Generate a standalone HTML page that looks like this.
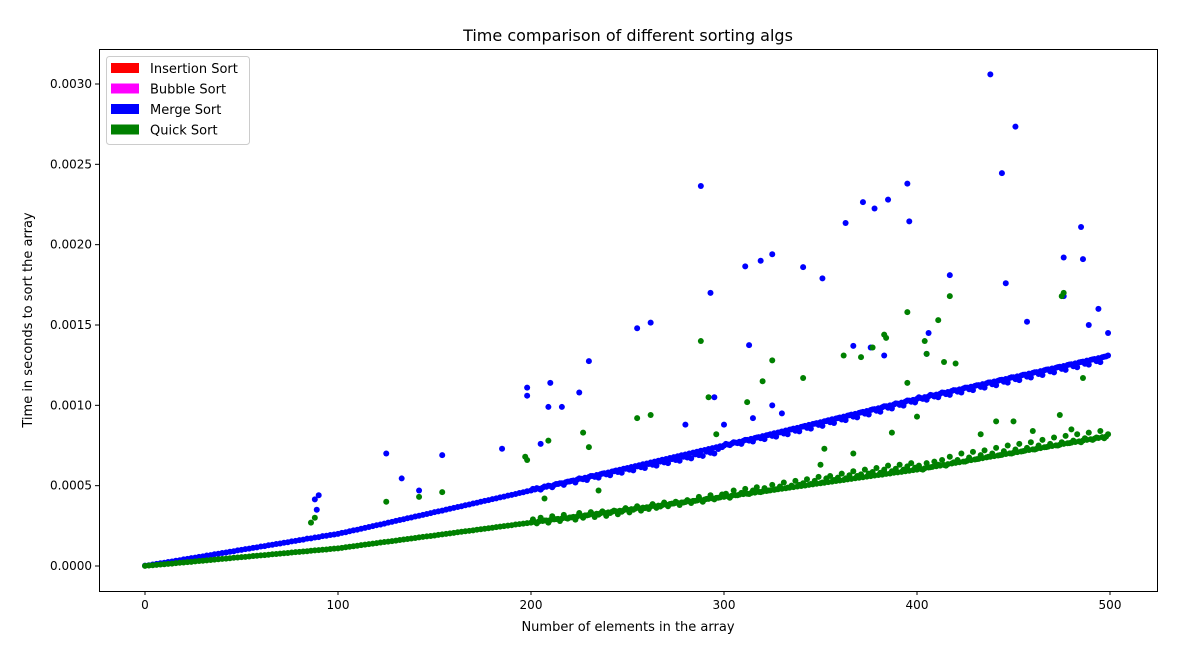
<!DOCTYPE html>
<html><head><meta charset="utf-8"><style>
body{margin:0;background:#fff;font-family:"Liberation Sans","DejaVu Sans",sans-serif}
svg text{font-family:"DejaVu Sans","Liberation Sans",sans-serif;fill:#000}
</style></head><body>
<svg id="c" width="1188" height="646"></svg>
<script>
// Values in microseconds; band arrays index i -> n = i*2
const mergeBand=[2,5,9,13,17,20,25,28,33,36,41,44,49,52,57,60,65,68,73,76,81,84,89,92,97,100,105,108,113,116,121,124,129,132,137,140,145,148,153,156,161,164,170,172,177,180,186,188,193,196,
200,206,210,216,222,226,232,237,243,248,254,258,264,270,275,281,286,291,297,302,308,313,318,324,329,335,340,345,351,356,362,367,372,378,383,389,394,400,405,410,416,421,427,432,438,443,448,454,459,465,
470,476,481,487,493,498,504,510,515,521,526,532,538,543,549,554,560,566,571,577,582,588,594,599,605,610,616,622,627,633,638,644,650,655,661,666,672,678,683,689,694,700,706,711,717,722,728,734,739,745,
750,756,762,768,773,779,785,791,797,802,808,814,820,826,831,837,843,849,855,860,866,872,878,884,889,895,901,907,913,918,924,930,936,942,947,953,959,965,971,976,982,988,994,1000,1005,1011,1017,1023,1029,1034,
1040,1045,1051,1056,1062,1067,1072,1078,1083,1089,1094,1099,1105,1110,1116,1121,1126,1132,1137,1143,1148,1153,1159,1164,1170,1175,1180,1186,1191,1197,1202,1207,1213,1218,1224,1229,1234,1240,1245,1251,1256,1261,1267,1272,1278,1283,1288,1294,1299,1305];
const quickBand=[1,3,5,7,9,11,13,15,18,20,22,24,26,29,31,33,35,37,40,42,44,46,48,51,53,55,57,59,62,64,66,68,70,73,75,77,79,81,84,86,88,90,92,95,97,99,101,103,106,108,
110,113,117,120,123,126,130,133,136,139,142,146,149,152,155,158,162,165,168,171,174,178,181,184,187,190,194,197,200,203,206,210,213,216,219,222,226,229,232,235,238,242,245,248,251,254,258,261,264,267,
270,273,277,280,283,286,290,293,296,299,302,306,309,312,315,318,322,325,328,331,334,338,341,344,347,350,354,357,360,363,366,370,373,376,379,382,386,389,392,395,398,402,405,408,411,414,418,421,424,427,
430,433,437,440,444,447,450,454,457,461,464,467,471,474,478,481,484,488,491,495,498,501,505,508,512,515,518,522,525,529,532,535,539,542,546,549,552,556,559,563,566,569,573,576,580,583,586,590,593,597,
600,604,608,613,617,621,625,629,634,638,642,646,650,655,659,663,667,671,676,680,684,688,692,697,701,705,709,713,718,722,726,730,734,739,743,747,751,755,760,764,768,772,776,781,785,789,793,797,802,806];
// odd n from 201 to 499: index i -> n = 201 + i*2
const mergeOdd=[480,485,475,495,500,490,510,515,505,525,530,520,545,540,535,560,555,550,575,570,565,590,585,580,605,600,595,620,615,610,635,630,625,650,645,640,665,660,655,680,675,670,695,690,685,712,705,700,728,740,
760,752,770,765,760,785,780,775,800,795,790,815,810,805,832,825,820,850,842,838,868,860,855,885,878,872,902,895,890,920,912,908,938,930,925,956,948,943,975,966,960,994,985,980,1012,1003,998,1030,1022,1018,
1050,1040,1035,1065,1055,1050,1080,1070,1065,1095,1085,1080,1110,1100,1095,1125,1115,1110,1142,1131,1125,1158,1147,1141,1175,1163,1157,1190,1179,1173,1206,1195,1189,1222,1211,1205,1238,1227,1221,1254,1243,1237,1270,1259,1253,1286,1275,1269,1302,1310];
const quickOdd=[290,265,300,283,270,310,292,280,318,295,303,289,330,300,315,335,305,320,340,312,330,345,322,338,360,334,350,372,345,360,355,385,362,370,395,372,388,400,380,395,410,392,405,430,400,418,440,415,425,445,
450,425,470,440,455,480,448,470,490,460,485,470,505,478,495,520,488,500,530,505,515,540,510,530,555,520,545,560,535,550,575,545,565,590,560,570,600,575,585,610,580,600,625,590,605,630,600,620,640,612,
625,600,640,615,650,630,660,625,680,645,660,700,650,675,710,665,690,720,680,700,735,690,715,750,700,725,760,715,735,770,725,750,785,740,760,800,750,770,810,765,780,820,770,795,830,785,800,840,795,820];
const mergeOutX=[88,90,89,125,133,142,154,185,198,198,205,209,210,216,225,230,255,262,288,293,295,311,313,319,325,341,351,363,372,378,385,395,396,405,406,417,438,444,446,451,457,476,476,485,486,489,494,499,367,376,383,315,325,330,280,300];
const mergeOutY=[415,440,350,700,545,470,690,730,1110,1060,760,990,1140,990,1080,1275,1480,1515,2365,1700,1050,1865,1375,1900,1940,1860,1790,2135,2265,2225,2280,2380,2145,1320,1450,1810,3060,2445,1760,2735,1520,1920,1680,2110,1910,1500,1600,1450,1370,1360,1310,920,1000,950,880,880];
const quickOutX=[88,86,125,142,154,197,198,209,207,227,230,235,255,262,288,292,296,312,320,325,341,352,362,371,377,383,384,387,395,400,404,405,411,414,417,420,441,450,460,474,475,476,486,480,395,433,350,367];
const quickOutY=[300,270,400,430,460,680,660,780,420,830,740,470,920,940,1400,1050,820,1020,1150,1280,1170,730,1310,1300,1360,1440,1420,830,1580,930,1400,1320,1530,1270,1680,1260,900,900,840,940,1680,1700,1170,850,1140,820,630,700];
const xTicks=[0,100,200,300,400,500];
const yTicks=[0,500,1000,1500,2000,2500,3000];
const yTickLabels=["0.0000","0.0005","0.0010","0.0015","0.0020","0.0025","0.0030"];
const legendLabels=["Insertion Sort","Bubble Sort","Merge Sort","Quick Sort"];
const legendColors=["#ff0000","#ff00ff","#0000ff","#008000"];

const NS="http://www.w3.org/2000/svg",svg=document.getElementById('c');
const X=v=>145+v*1.93, Y=v=>566-v*0.16067;
function mk(t,a,p){const e=document.createElementNS(NS,t);for(const k in a)e.setAttribute(k,a[k]);(p||svg).appendChild(e);return e;}
const frame=mk('rect',{x:99.5,y:49.5,width:1058,height:542,fill:'none',stroke:'#000','stroke-width':1});


function dot(x,y,c,name){const e=mk('circle',{cx:X(x),cy:Y(y),r:3,fill:c});

}
mergeBand.forEach((v,i)=>dot(i*2,v,'#0000ff','merge-point'));
mergeOdd.forEach((v,i)=>dot(201+i*2,v,'#0000ff','merge-point'));
mergeOutY.forEach((v,i)=>dot(mergeOutX[i],v,'#0000ff','merge-point'));
quickBand.forEach((v,i)=>dot(i*2,v,'#008000','quick-point'));
quickOdd.forEach((v,i)=>dot(201+i*2,v,'#008000','quick-point'));
quickOutY.forEach((v,i)=>dot(quickOutX[i],v,'#008000','quick-point'));
xTicks.forEach(t=>{mk('line',{x1:X(t),x2:X(t),y1:591,y2:595,stroke:'#000'});
const e=mk('text',{x:X(t),y:609,'text-anchor':'middle','font-size':12});e.textContent=t;

});
yTicks.forEach((t,i)=>{mk('line',{x1:95,x2:99,y1:Y(t),y2:Y(t),stroke:'#000'});
const e=mk('text',{x:92,y:Y(t)+4,'text-anchor':'end','font-size':12});e.textContent=yTickLabels[i];

});
let e=mk('text',{x:628,y:41,'text-anchor':'middle','font-size':16});e.textContent='Time comparison of different sorting algs';


e=mk('text',{x:628,y:631,'text-anchor':'middle','font-size':13});e.textContent='Number of elements in the array';


e=mk('text',{x:0,y:0,'text-anchor':'middle','font-size':13,transform:'translate(32,320) rotate(-90)'});e.textContent='Time in seconds to sort the array';


const lg=mk('g',{});


mk('rect',{x:106.5,y:56.5,width:143,height:88,rx:3,fill:'#fff','fill-opacity':0.8,stroke:'#ccc'},lg);
legendLabels.forEach((l,i)=>{const y=63+i*20.5;
mk('rect',{x:111,y:y,width:28,height:10,fill:legendColors[i]},lg);
const t=mk('text',{x:150,y:y+10,'font-size':13},lg);t.textContent=l;

});
</script>
</body></html>
